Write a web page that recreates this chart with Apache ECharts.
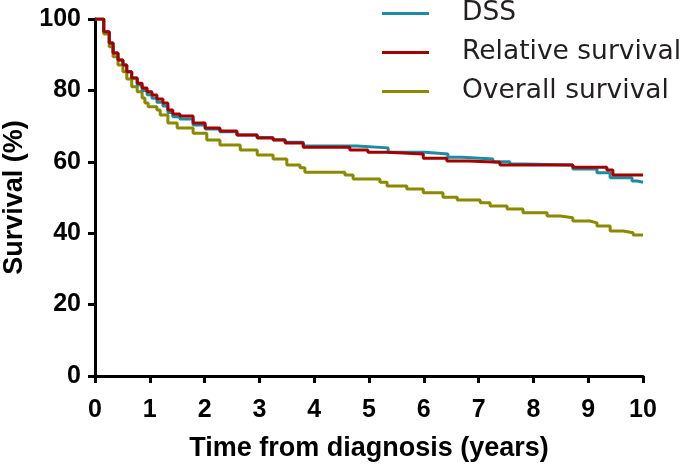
<!DOCTYPE html>
<html>
<head>
<meta charset="utf-8">
<script src="https://cdn.jsdelivr.net/npm/echarts@6/dist/echarts.min.js"></script>
<style>
  html, body { margin: 0; padding: 0; background: #fff; }
  #chart { width: 685px; height: 465px; }
</style>
</head>
<body>
<div id="chart"></div>
<script>
// time (years) at which each curve steps down, and the survival (%) after the step
const dssTimes = [0, 0.16, 0.26, 0.33, 0.42, 0.51, 0.58, 0.67, 0.77, 0.86, 0.95, 1.04, 1.13, 1.24, 1.33, 1.42, 1.55, 1.79, 2.01, 2.28, 2.59, 2.96, 3.25, 3.47, 3.80, 4.78, 5.35, 6.02, 6.44, 6.70, 7.26, 7.57, 7.81, 8.72, 9.16, 9.40, 9.80, 9.89, 10];
const dssValues = [100, 96.4, 93.3, 90.5, 88.5, 87.1, 85.2, 83.5, 81.5, 80.0, 78.8, 77.8, 76.7, 75.6, 73.8, 72.6, 72.0, 70.3, 69.2, 68.4, 67.5, 66.8, 66.2, 65.5, 64.4, 63.9, 62.7, 62.2, 61.3, 60.8, 60.0, 59.4, 59.1, 58.0, 56.9, 55.5, 54.6, 54.3, 54.3];

const relTimes = [0, 0.16, 0.26, 0.33, 0.42, 0.51, 0.58, 0.67, 0.77, 0.86, 0.95, 1.04, 1.13, 1.24, 1.33, 1.42, 1.55, 1.79, 2.01, 2.28, 2.59, 2.96, 3.25, 3.47, 3.80, 4.65, 4.98, 5.33, 5.99, 6.42, 6.81, 7.39, 8.72, 9.34, 9.45, 10];
const relValues = [100, 96.4, 93.3, 90.5, 88.5, 87.1, 85.2, 83.5, 82.0, 80.7, 79.6, 78.7, 77.6, 76.5, 74.5, 73.4, 72.8, 70.9, 69.5, 68.6, 67.5, 66.7, 66.1, 65.3, 64.1, 63.3, 62.7, 62.2, 61.0, 60.2, 59.9, 59.1, 58.5, 57.7, 56.3, 56.3];

const osTimes = [0, 0.16, 0.26, 0.33, 0.42, 0.51, 0.58, 0.67, 0.77, 0.86, 0.91, 0.97, 1.13, 1.19, 1.33, 1.50, 1.79, 2.04, 2.28, 2.65, 2.96, 3.25, 3.50, 3.74, 3.83, 4.56, 4.71, 5.20, 5.33, 5.69, 5.99, 6.35, 6.61, 7.03, 7.21, 7.52, 7.81, 8.25, 8.49, 8.72, 9.03, 9.16, 9.40, 9.64, 9.82, 10];
const osValues = [100, 95.8, 92.2, 89.4, 87.1, 85.2, 83.2, 81.0, 79.6, 77.9, 76.5, 75.4, 74.5, 73.1, 70.9, 69.5, 68.0, 66.1, 64.7, 63.3, 61.9, 60.8, 59.1, 58.3, 57.1, 56.3, 55.2, 54.3, 53.2, 52.4, 51.3, 50.1, 49.3, 48.5, 47.6, 46.8, 45.7, 44.8, 44.3, 43.4, 42.9, 42.0, 40.6, 40.1, 39.5, 39.5];

const seriesNames = ['DSS', 'Relative survival', 'Overall survival'];
const seriesColors = ['#1b8ca2', '#a50000', '#8a8a00'];

function pairs(times, values) {
    return times.map((t, i) => [t, values[i]]);
}

const chart = echarts.init(document.getElementById('chart'));

const labelFont = {
    fontFamily: 'Liberation Sans, Arial, sans-serif',
    fontWeight: 'bold',
    color: '#000'
};

const option = {
    animation: false,
    color: seriesColors,
    grid: { left: 95, right: 42, top: 19, bottom: 89, outerBoundsMode: 'none', containLabel: false },
    legend: {
        orient: 'vertical',
        left: 382,
        top: 0,
        padding: 0,
        itemWidth: 47,
        itemHeight: 3,
        itemGap: 12,
        icon: 'rect',
        data: seriesNames,
        textStyle: {
            fontFamily: 'DejaVu Sans, sans-serif',
            fontSize: 26.5,
            color: '#231f20',
            padding: [0, 0, 0, 28]
        }
    },
    xAxis: {
        type: 'value',
        min: 0,
        max: 10,
        interval: 1,
        name: 'Time from diagnosis (years)',
        nameLocation: 'middle',
        nameGap: 59,
        nameTextStyle: Object.assign({ fontSize: 27 }, labelFont),
        axisLine: { lineStyle: { color: '#000', width: 3 } },
        axisTick: { length: 7, lineStyle: { color: '#000', width: 3 } },
        axisLabel: Object.assign({ fontSize: 25, margin: 22 }, labelFont),
        splitLine: { show: false }
    },
    yAxis: {
        type: 'value',
        min: 0,
        max: 100,
        interval: 20,
        name: 'Survival (%)',
        nameLocation: 'middle',
        nameGap: 67,
        nameTextStyle: Object.assign({ fontSize: 27 }, labelFont),
        axisLine: { show: true, lineStyle: { color: '#000', width: 3 } },
        axisTick: { show: true, length: 7, lineStyle: { color: '#000', width: 3 } },
        axisLabel: Object.assign({ fontSize: 25, margin: 14 }, labelFont),
        splitLine: { show: false }
    },
    series: [
        { name: seriesNames[0], type: 'line', step: 'end', showSymbol: false, data: pairs(dssTimes, dssValues), lineStyle: { width: 3 }, z: 2 },
        { name: seriesNames[1], type: 'line', step: 'end', showSymbol: false, data: pairs(relTimes, relValues), lineStyle: { width: 3 }, z: 3 },
        { name: seriesNames[2], type: 'line', step: 'end', showSymbol: false, data: pairs(osTimes, osValues), lineStyle: { width: 3 }, z: 1 }
    ]
};

chart.setOption(option);
</script>
</body>
</html>
